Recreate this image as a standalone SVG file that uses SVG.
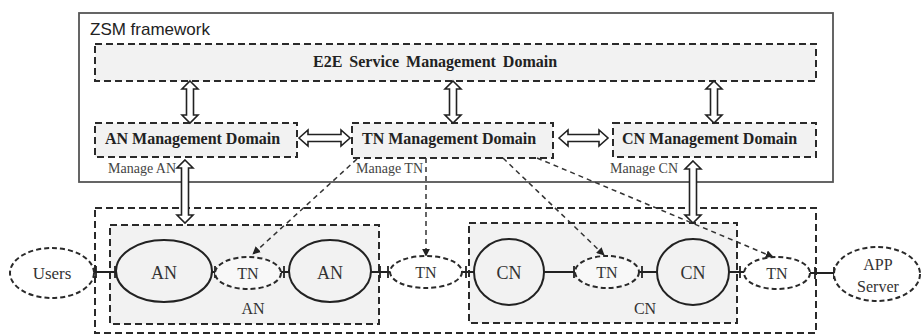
<svg xmlns="http://www.w3.org/2000/svg" width="924" height="336" viewBox="0 0 924 336">
<defs>
<style>
.dbox{fill:#f2f2f2;stroke:#2a2a2a;stroke-width:2;stroke-dasharray:7 4}
.obox{fill:#ffffff;stroke:#2a2a2a;stroke-width:2;stroke-dasharray:7 4}
.sell{fill:#f2f2f2;stroke:#222;stroke-width:2}
.dell{fill:#f8f8f8;stroke:#2a2a2a;stroke-width:2;stroke-dasharray:5 3}
.dellw{fill:#ffffff;stroke:#2a2a2a;stroke-width:2;stroke-dasharray:5 3}
.hol{fill:#ffffff;stroke:#222;stroke-width:1.6;stroke-linejoin:miter}
.dash{fill:none;stroke:#333;stroke-width:1.5;stroke-dasharray:5 4}
.tick{fill:none;stroke:#222;stroke-width:1.8}
.bt{font-family:"Liberation Serif","Times New Roman",serif;font-weight:bold;font-size:16px;fill:#222}
.nt{font-family:"Liberation Serif","Times New Roman",serif;font-size:16px;fill:#333}
.big{font-size:18px}
.usr{font-size:17px}
.mt{font-family:"Liberation Serif","Times New Roman",serif;font-size:14px;fill:#444}
.st{font-family:"Liberation Sans",Arial,sans-serif;font-size:17px;fill:#222}
</style>
<marker id="ah" viewBox="0 0 10 10" refX="9" refY="5" markerWidth="8" markerHeight="8" markerUnits="userSpaceOnUse" orient="auto">
<path d="M0,0 L10,5 L0,10 Z" fill="#222"/>
</marker>
</defs>
<rect width="924" height="336" fill="#ffffff"/>

<g id="zsm-framework">
<rect x="79" y="13" width="754" height="169" fill="#ffffff" stroke="#555" stroke-width="1.8"/>
<text class="st" x="90" y="35">ZSM framework</text>
</g>

<g id="e2e-domain">
<rect class="dbox" x="95" y="44" width="721" height="37"/>
<text class="bt" x="313" y="67" word-spacing="3">E2E Service Management Domain</text>
</g>
<g id="an-mgmt">
<rect class="dbox" x="95" y="123" width="202" height="34"/>
<text class="bt" x="105" y="144">AN Management Domain</text>
</g>
<g id="tn-mgmt">
<rect class="dbox" x="352" y="123" width="201" height="35"/>
<text class="bt" x="362" y="144">TN Management Domain</text>
</g>
<g id="cn-mgmt">
<rect class="dbox" x="613" y="123" width="203" height="34"/>
<text class="bt" x="622" y="144">CN Management Domain</text>
</g>

<g id="network-domain">
<rect class="obox" x="95" y="208" width="721" height="125"/>
</g>
<g id="an-domain">
<rect class="dbox" x="110" y="225" width="269" height="99"/>
<text class="nt" x="253" y="314" text-anchor="middle">AN</text>
</g>
<g id="cn-domain">
<rect class="dbox" x="469" y="223" width="268" height="100"/>
<text class="nt" x="645" y="314" text-anchor="middle">CN</text>
</g>

<g id="connectors">
<path class="tick" d="M93,272 H117 M96,266 V278 M115,266 V278"/>
<path class="tick" d="M212,272 H216 M215,266 V278"/>
<path class="tick" d="M281,272 H290 M284,266 V278"/>
<path class="tick" d="M371,272 H391 M380,266 V278 M388,266 V278"/>
<path class="tick" d="M462,272 H474 M466,266 V278"/>
<path class="tick" d="M544,272 H575 M574,266 V278"/>
<path class="tick" d="M639,272 H657 M642,266 V278"/>
<path class="tick" d="M729,272 H745 M740,266 V278"/>
<path class="tick" d="M810,273 H835 M815,267 V279 M834,267 V279"/>
<path class="hol" d="M190,81 L198,89 L193.5,89 L193.5,115 L198,115 L190,123 L182,115 L186.5,115 L186.5,89 L182,89 Z"/>
<path class="hol" d="M453,81 L461,89 L456.5,89 L456.5,115 L461,115 L453,123 L445,115 L449.5,115 L449.5,89 L445,89 Z"/>
<path class="hol" d="M714,81 L722,89 L717.5,89 L717.5,115 L722,115 L714,123 L706,115 L710.5,115 L710.5,89 L706,89 Z"/>
<path class="hol" d="M299,138 L308,130 L308,134.5 L341,134.5 L341,130 L350,138 L341,146 L341,141.5 L308,141.5 L308,146 Z"/>
<path class="hol" d="M559,138 L568,130 L568,134.5 L599,134.5 L599,130 L608,138 L599,146 L599,141.5 L568,141.5 L568,146 Z"/>
<path class="hol" d="M185,160 L193,168 L188.5,168 L188.5,215 L193,215 L185,223 L177,215 L181.5,215 L181.5,168 L177,168 Z"/>
<path class="hol" d="M693,161 L701,169 L696.5,169 L696.5,215 L701,215 L693,223 L685,215 L689.5,215 L689.5,169 L685,169 Z"/>
<line class="dash" x1="357" y1="159" x2="253" y2="254" marker-end="url(#ah)"/>
<line class="dash" x1="426" y1="158" x2="426" y2="256" marker-end="url(#ah)"/>
<line class="dash" x1="503" y1="158" x2="604" y2="255" marker-end="url(#ah)"/>
<line class="dash" x1="537" y1="158" x2="773" y2="257" marker-end="url(#ah)"/>
</g>

<g id="labels">
<text class="mt" x="108" y="173">Manage AN</text>
<text class="mt" x="356" y="173">Manage TN</text>
<text class="mt" x="610" y="173">Manage CN</text>
</g>

<g id="users">
<ellipse class="dellw" cx="52" cy="273" rx="42" ry="25"/>
<text class="nt usr" x="52" y="279" text-anchor="middle">Users</text>
</g>
<g id="an1">
<ellipse class="sell" cx="164" cy="271" rx="48" ry="31"/>
<text class="nt big" x="164" y="279" text-anchor="middle">AN</text>
</g>
<g id="tn1">
<ellipse class="dell" cx="248" cy="273" rx="33" ry="16"/>
<text class="nt" x="248" y="279" text-anchor="middle">TN</text>
</g>
<g id="an2">
<ellipse class="sell" cx="330" cy="271" rx="41" ry="31"/>
<text class="nt big" x="330" y="279" text-anchor="middle">AN</text>
</g>
<g id="tn-mid">
<ellipse class="dellw" cx="426" cy="272" rx="36" ry="16"/>
<text class="nt" x="426" y="278" text-anchor="middle">TN</text>
</g>
<g id="cn1">
<ellipse class="sell" cx="509" cy="272" rx="35" ry="33"/>
<text class="nt big" x="509" y="279" text-anchor="middle">CN</text>
</g>
<g id="tn2">
<ellipse class="dell" cx="607" cy="272" rx="32" ry="16"/>
<text class="nt" x="607" y="278" text-anchor="middle">TN</text>
</g>
<g id="cn2">
<ellipse class="sell" cx="693" cy="272" rx="36" ry="33"/>
<text class="nt big" x="693" y="279" text-anchor="middle">CN</text>
</g>
<g id="tn3">
<ellipse class="dellw" cx="777" cy="273" rx="33" ry="16"/>
<text class="nt" x="777" y="279" text-anchor="middle">TN</text>
</g>
<g id="app-server">
<ellipse class="dellw" cx="877" cy="274" rx="43" ry="27"/>
<text class="nt" x="878" y="270" text-anchor="middle">APP</text>
<text class="nt" x="878" y="292" text-anchor="middle">Server</text>
</g>
</svg>
